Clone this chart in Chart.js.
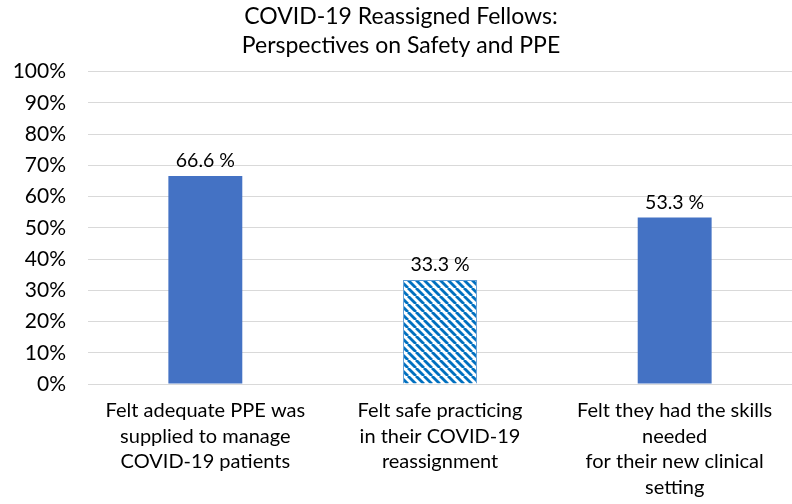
<!DOCTYPE html>
<html>
<head>
<meta charset="utf-8">
<script src="https://cdn.jsdelivr.net/npm/chart.js@4"></script>
<style>
  html, body { margin: 0; padding: 0; background: #fff; }
  #wrap { width: 792px; height: 504px; }
</style>
</head>
<body>
<div id="wrap"><canvas id="chart"></canvas></div>
<script>
// chart data
const categories = [
  ["Felt adequate PPE was", "supplied to manage", "COVID-19 patients"],
  ["Felt safe practicing", "in their COVID-19", "reassignment"],
  ["Felt they had the skills", "needed", "for their new clinical", "setting"]
];
const percentValues = [66.6, 33.3, 53.3];
const valueLabels = ["66.6 %", "33.3 %", "53.3 %"];
const titleLines = ["COVID-19 Reassigned Fellows:", "Perspectives on Safety and PPE"];

const FONT = "Lato, 'Open Sans', sans-serif";

// diagonal stripe pattern for the middle bar
function makeStripes() {
  const c = document.createElement('canvas');
  c.width = 8; c.height = 8;
  const g = c.getContext('2d');
  g.fillStyle = '#ffffff';
  g.fillRect(0, 0, 8, 8);
  g.strokeStyle = '#0070C0';
  g.lineWidth = 2.8;
  [-8, 0, 8].forEach(x0 => {
    g.beginPath();
    g.moveTo(x0, 0);
    g.lineTo(x0 + 8, 8);
    g.stroke();
  });
  return g.createPattern(c, 'repeat');
}

const stripes = makeStripes();

// draws the value labels above each bar
const valueLabelPlugin = {
  id: 'valueLabels',
  afterDatasetsDraw(chart) {
    const ctx = chart.ctx;
    const meta = chart.getDatasetMeta(0);
    ctx.save();
    ctx.font = "19.5px " + FONT;
    ctx.fillStyle = '#000';
    ctx.textAlign = 'center';
    ctx.textBaseline = 'middle';
    meta.data.forEach((bar, i) => {
      ctx.fillText(valueLabels[i], bar.x, bar.y - 15);
    });
    ctx.restore();
  }
};

new Chart(document.getElementById('chart'), {
  type: 'bar',
  data: {
    labels: categories,
    datasets: [{
      data: percentValues,
      backgroundColor: ['#4472C4', stripes, '#4472C4'],
      borderColor: ['#4472C4', '#5B9BD5', '#4472C4'],
      borderWidth: [0, 1, 0],
      categoryPercentage: 1,
      barPercentage: 0.315
    }]
  },
  options: {
    responsive: true,
    maintainAspectRatio: false,
    animation: false,
    layout: { padding: { left: 10, right: 0, top: 2, bottom: 0 } },
    plugins: {
      legend: { display: false },
      tooltip: { enabled: false },
      title: {
        display: true,
        text: titleLines,
        color: '#000',
        font: { family: FONT, size: 23, weight: 'normal', lineHeight: 1.25 },
        padding: { top: 0, bottom: 12 }
      }
    },
    scales: {
      x: {
        grid: { display: false },
        border: { display: false },
        afterFit: s => { s.height = 120; },
        ticks: {
          color: '#000',
          font: { family: FONT, size: 20, lineHeight: 1.28 },
          maxRotation: 0,
          autoSkip: false,
          padding: 6
        }
      },
      y: {
        min: 0,
        max: 100,
        grid: { color: '#d9d9d9', drawTicks: false },
        border: { display: false },
        afterFit: s => { s.width = 78; },
        ticks: {
          stepSize: 10,
          color: '#000',
          font: { family: FONT, size: 21 },
          padding: 22,
          callback: v => v + '%'
        }
      }
    }
  },
  plugins: [valueLabelPlugin]
});
</script>
</body>
</html>
